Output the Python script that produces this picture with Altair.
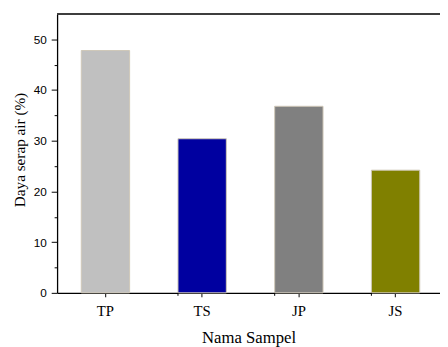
import altair as alt
import pandas as pd

samples = ["TP", "TS", "JP", "JS"]
values = [47.8, 30.4, 36.8, 24.2]
colors = ["#C0C0C0", "#0000A0", "#808080", "#808000"]
y_ticks = [0, 5, 10, 15, 20, 25, 30, 35, 40, 45, 50]

W, H = 390, 284
XR = 394  # x range runs slightly past the visible window, as in the reference

df = pd.DataFrame({"sample": samples, "value": values})
minor_df = pd.DataFrame({"sample": samples[1:]})

x_enc = alt.X(
    "sample:N",
    sort=samples,
    scale=alt.Scale(paddingInner=0.5, paddingOuter=0.25, range=[0, XR]),
    axis=alt.Axis(
        title="Nama Sampel",
        labelAngle=0,
        labelFont="Liberation Serif",
        labelFontSize=15,
        labelColor="black",
        labelPadding=7,
        tickSize=4,
        tickColor="black",
        domainColor="black",
        domainWidth=1.3,
        titleFont="Liberation Serif",
        titleFontSize=17,
        titleFontWeight="normal",
        titleColor="black",
        titlePadding=12,
        titleX=195,
    ),
)

bars = alt.Chart(df).mark_bar(stroke="#CFC8B8", strokeWidth=1).encode(
    x=x_enc,
    y=alt.Y(
        "value:Q",
        scale=alt.Scale(domain=[0, 55], nice=False),
        axis=alt.Axis(
            title="Daya serap air (%)",
            values=y_ticks,
            labelExpr="datum.value % 10 === 0 ? datum.label : ''",
            tickSize={"condition": {"test": "datum.value % 10 === 0", "value": 6}, "value": 3},
            labelFont="Liberation Sans",
            labelFontSize=12,
            labelColor="black",
            labelPadding=5,
            tickColor="black",
            domainColor="black",
            domainWidth=1.3,
            grid=False,
            titleFont="Liberation Serif",
            titleFontSize=15.5,
            titleFontWeight="normal",
            titleColor="black",
            titlePadding=6,
            titleY=138,
        ),
    ),
    color=alt.Color("sample:N", scale=alt.Scale(domain=samples, range=colors), legend=None),
)

minor = alt.Chart(minor_df).mark_rule(color="black", strokeWidth=1).encode(
    x=alt.X("sample:N", sort=samples, bandPosition=0),
    y=alt.value(H),
    y2=alt.value(H + 3),
)

top = alt.Chart(df).mark_rule(color="#333333", strokeWidth=1.2).encode(
    x=alt.value(0), x2=alt.value(XR), y=alt.value(0)
)

chart = (
    alt.layer(bars, minor, top)
    .properties(
        width=W,
        height=H,
        autosize=alt.AutoSizeParams(type="none"),
        padding={"left": 50, "top": 3, "right": 0, "bottom": 52},
        background="white",
    )
    .configure_view(stroke=None)
)

chart.save("out.html", embed_options={"renderer": "svg", "actions": False})
